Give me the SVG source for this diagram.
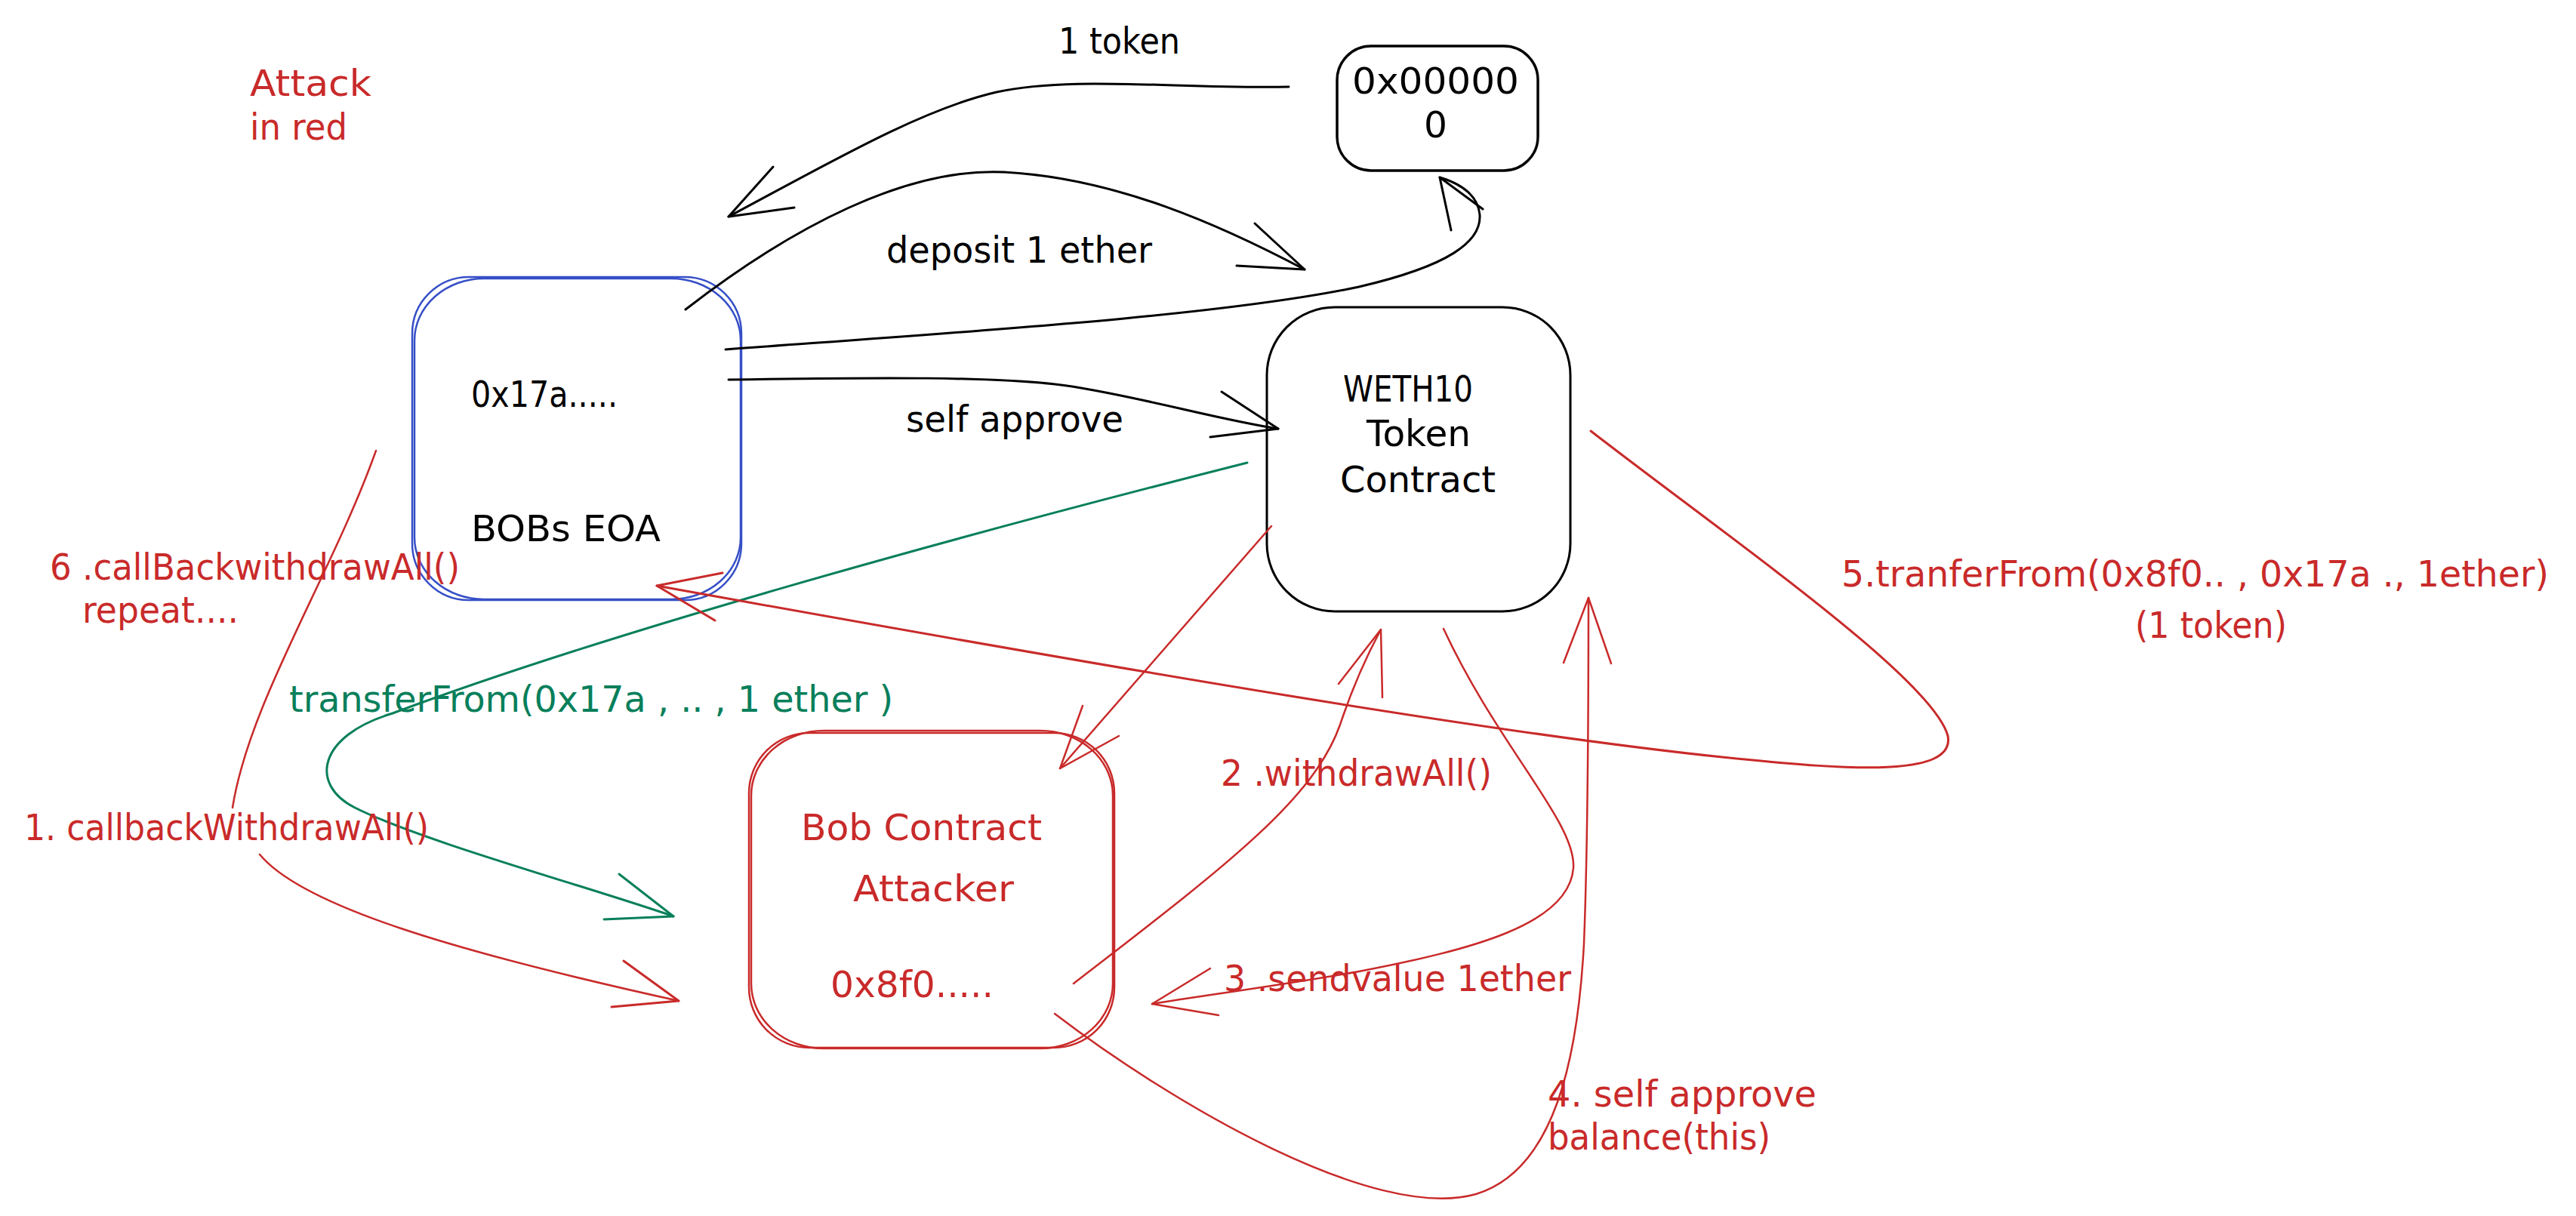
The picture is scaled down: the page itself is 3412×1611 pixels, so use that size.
<svg xmlns="http://www.w3.org/2000/svg" width="3412" height="1611" viewBox="0 0 3412 1611">
<style>
.t{font-family:"DejaVu Sans","Liberation Sans",sans-serif;font-size:48px}
.tk{fill:#000}
.tr{fill:#c92a2a}
.tg{fill:#087f5b}
.ck{fill:none;stroke:#000;stroke-width:3;stroke-linecap:round;stroke-linejoin:round}
.cr{fill:none;stroke:#c92a2a;stroke-width:2.5;stroke-linecap:round;stroke-linejoin:round}
.cg{fill:none;stroke:#087f5b;stroke-width:3;stroke-linecap:round;stroke-linejoin:round}
.bk{fill:none;stroke:#000;stroke-width:3.5}
.bb{fill:none;stroke:#364fc7;stroke-width:2.5}
.br{fill:none;stroke:#c92a2a;stroke-width:2.5}
</style>
<rect x="0" y="0" width="3412" height="1611" fill="#ffffff"/>

<g id="note-attack">
<text class="t tr" x="331" y="127" textLength="161" lengthAdjust="spacingAndGlyphs">Attack</text>
<text class="t tr" x="331" y="185" textLength="129" lengthAdjust="spacingAndGlyphs">in red</text>
</g>

<g id="node-zero-address">
<rect class="bk" x="1771" y="61" width="266" height="165" rx="45"/>
<text class="t tk" x="1791" y="124" textLength="221" lengthAdjust="spacingAndGlyphs">0x00000</text>
<text class="t tk" x="1886" y="182" textLength="31" lengthAdjust="spacingAndGlyphs">0</text>
</g>

<g id="node-bobs-eoa">
<rect class="bb" x="546" y="367" width="436" height="428" rx="75"/>
<rect class="bb" x="549" y="369" width="432" height="425" rx="92" ry="82"/>
<text class="t tk" x="624" y="539" textLength="194" lengthAdjust="spacingAndGlyphs">0x17a.....</text>
<text class="t tk" x="624" y="717" textLength="251" lengthAdjust="spacingAndGlyphs">BOBs EOA</text>
</g>

<g id="node-weth10">
<rect class="bk" x="1678" y="407" width="402" height="403" rx="90" style="stroke-width:3"/>
<text class="t tk" x="1779" y="532" textLength="172" lengthAdjust="spacingAndGlyphs">WETH10</text>
<text class="t tk" x="1810" y="591" textLength="138" lengthAdjust="spacingAndGlyphs">Token</text>
<text class="t tk" x="1775" y="652" textLength="206" lengthAdjust="spacingAndGlyphs">Contract</text>
</g>

<g id="node-bob-contract">
<rect class="br" x="992" y="971" width="484" height="417" rx="80"/>
<rect class="br" x="995" y="968" width="479" height="421" rx="96" ry="86"/>
<text class="t tr" x="1061" y="1113" textLength="319" lengthAdjust="spacingAndGlyphs">Bob Contract</text>
<text class="t tr" x="1130" y="1194" textLength="213" lengthAdjust="spacingAndGlyphs">Attacker</text>
<text class="t tr" x="1100" y="1321" textLength="216" lengthAdjust="spacingAndGlyphs">0x8f0.....</text>
</g>

<g id="connectors">
<g id="edge-1-token">
<path class="ck" d="M1707,115 C1560,118 1420,100 1320,122 C1220,145 1100,215 965,287"/>
<path class="ck" d="M1024,221 L965,287 L1052,275"/>
<text class="t tk" x="1402" y="71" textLength="161" lengthAdjust="spacingAndGlyphs">1 token</text>
</g>
<g id="edge-deposit">
<path class="ck" d="M908,410 C1050,300 1200,222 1330,228 C1480,236 1620,300 1728,357"/>
<path class="ck" d="M1662,296 L1728,357 L1638,352"/>
<text class="t tk" x="1174" y="348" textLength="352" lengthAdjust="spacingAndGlyphs">deposit 1 ether</text>
</g>
<g id="edge-eoa-to-zero">
<path class="ck" d="M961,463 C1300,438 1620,418 1800,380 C1920,352 1962,320 1960,285 C1958,262 1940,245 1907,235"/>
<path class="ck" d="M1922,305 L1907,235 L1964,277"/>
</g>
<g id="edge-self-approve">
<path class="ck" d="M965,503 C1150,500 1330,498 1420,512 C1520,528 1610,555 1693,568"/>
<path class="ck" d="M1618,519 L1693,568 L1603,579"/>
<text class="t tk" x="1200" y="572" textLength="288" lengthAdjust="spacingAndGlyphs">self approve</text>
</g>
<g id="edge-transferfrom-green">
<path class="cg" d="M1652,613 C1250,715 800,840 520,945 C420,975 410,1040 470,1070 C560,1115 780,1175 892,1214"/>
<path class="cg" d="M820,1158 L892,1214 L800,1218"/>
<text class="t tg" x="383" y="943" textLength="800" lengthAdjust="spacingAndGlyphs">transferFrom(0x17a , .. , 1 ether )</text>
</g>
<g id="edge-1-callback">
<path class="cr" d="M498,597 C440,760 330,930 308,1070"/>
<path class="cr" d="M344,1132 C400,1200 600,1260 899,1326"/>
<path class="cr" d="M826,1273 L899,1326 L810,1334" style="stroke-width:3"/>
<text class="t tr" x="32" y="1113" textLength="536" lengthAdjust="spacingAndGlyphs">1. callbackWithdrawAll()</text>
</g>
<g id="edge-6-callback">
<path class="cr" d="M2107,571 C2300,720 2560,900 2580,975 C2590,1030 2450,1020 2300,1005 C2000,975 1500,890 870,776" style="stroke-width:3"/>
<path class="cr" d="M957,759 L870,776 L947,822" style="stroke-width:3"/>
<text class="t tr" x="66" y="768" textLength="543" lengthAdjust="spacingAndGlyphs">6 .callBackwithdrawAll()</text>
<text class="t tr" x="109" y="825" textLength="207" lengthAdjust="spacingAndGlyphs">repeat....</text>
<text class="t tr" x="2439" y="777" textLength="937" lengthAdjust="spacingAndGlyphs">5.tranferFrom(0x8f0.. , 0x17a ., 1ether)</text>
<text class="t tr" x="2828" y="845" textLength="201" lengthAdjust="spacingAndGlyphs">(1 token)</text>
</g>
<g id="edge-weth-to-bob">
<path class="cr" d="M1684,697 Q1560,840 1404,1018"/>
<path class="cr" d="M1434,935 L1404,1018 L1482,975"/>
</g>
<g id="edge-2-withdrawall">
<path class="cr" d="M1422,1303 C1620,1150 1740,1060 1775,960 C1795,900 1815,860 1829,834"/>
<path class="cr" d="M1773,906 L1829,834 L1831,924"/>
<text class="t tr" x="1617" y="1041" textLength="359" lengthAdjust="spacingAndGlyphs">2 .withdrawAll()</text>
</g>
<g id="edge-3-sendvalue">
<path class="cr" d="M1912,833 C1985,990 2088,1090 2084,1150 C2078,1225 1950,1258 1800,1287 C1700,1305 1600,1318 1526,1330"/>
<path class="cr" d="M1603,1283 L1526,1330 L1614,1345"/>
<text class="t tr" x="1621" y="1313" textLength="460" lengthAdjust="spacingAndGlyphs">3 .sendvalue 1ether</text>
</g>
<g id="edge-4-self-approve">
<path class="cr" d="M1397,1343 C1550,1460 1820,1620 1955,1582 C2060,1550 2090,1400 2098,1250 C2104,1100 2104,900 2104,792"/>
<path class="cr" d="M2071,878 L2104,792 L2134,879"/>
<text class="t tr" x="2050" y="1466" textLength="356" lengthAdjust="spacingAndGlyphs">4. self approve</text>
<text class="t tr" x="2050" y="1523" textLength="295" lengthAdjust="spacingAndGlyphs">balance(this)</text>
</g>
</g>
</svg>
